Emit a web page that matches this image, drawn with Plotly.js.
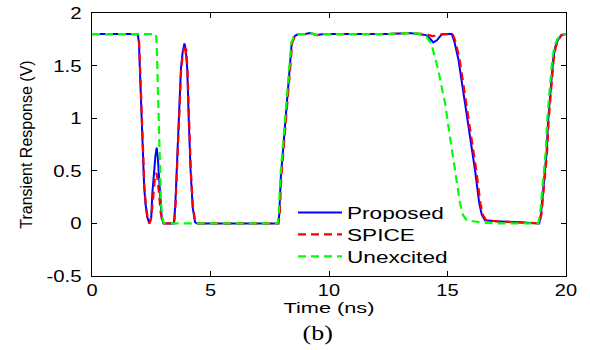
<!DOCTYPE html>
<html><head><meta charset="utf-8">
<script src="https://cdn.plot.ly/plotly-3.0.1.min.js"></script>
<style>html,body{margin:0;padding:0;background:#fff;} #chart{width:590px;height:350px;}</style>
</head><body><div id="chart"></div>
<script>
// ---- data (time in ns, voltage in V) ----
const seriesNames = ['Proposed', 'SPICE', 'Unexcited'];

const proposedT = [0, 1.0, 1.93, 1.98, 2.05, 2.14, 2.2, 2.26, 2.33, 2.42, 2.5, 2.55, 2.62, 2.68, 2.73, 2.78, 2.84, 2.88, 2.94, 3.02, 3.2, 3.46, 3.52, 3.57, 3.67, 3.75, 3.82, 3.9, 3.96, 4.02, 4.08, 4.16, 4.25, 4.35, 4.45, 6.0, 7.85, 7.9, 7.97, 8.08, 8.19, 8.28, 8.35, 8.43, 8.55, 8.7, 9.0, 9.2, 9.48, 9.8, 10.5, 11.5, 12.5, 13.4, 13.9, 14.1, 14.25, 14.4, 14.55, 14.75, 15.1, 15.18, 15.3, 15.46, 15.6, 15.74, 15.95, 16.16, 16.34, 16.45, 16.58, 17.07, 18.0, 18.87, 18.95, 19.04, 19.18, 19.25, 19.35, 19.46, 19.55, 19.67, 19.8, 19.96, 20];
const proposedV = [1.8, 1.8, 1.8, 1.72, 1.3, 0.67, 0.35, 0.18, 0.06, 0.0, 0.06, 0.3, 0.5, 0.65, 0.72, 0.62, 0.4, 0.2, 0.05, 0.0, 0.0, 0.0, 0.2, 0.5, 1.0, 1.46, 1.62, 1.71, 1.65, 1.46, 1.0, 0.5, 0.15, 0.01, 0.0, 0.0, 0.0, 0.08, 0.45, 0.75, 1.05, 1.35, 1.55, 1.72, 1.78, 1.8, 1.8, 1.81, 1.79, 1.8, 1.8, 1.8, 1.8, 1.81, 1.8, 1.79, 1.76, 1.72, 1.74, 1.795, 1.8, 1.8, 1.72, 1.56, 1.35, 1.14, 0.83, 0.51, 0.19, 0.08, 0.03, 0.02, 0.01, 0.0, 0.1, 0.35, 0.67, 0.99, 1.3, 1.56, 1.68, 1.75, 1.79, 1.8, 1.8];

const spiceT = [0, 1.0, 1.93, 1.99, 2.06, 2.15, 2.21, 2.27, 2.34, 2.43, 2.5, 2.57, 2.65, 2.72, 2.78, 2.84, 2.9, 2.97, 3.05, 3.2, 3.47, 3.53, 3.58, 3.68, 3.76, 3.84, 3.9, 3.94, 3.98, 4.03, 4.09, 4.17, 4.26, 4.36, 4.46, 6.0, 7.87, 7.92, 7.99, 8.1, 8.21, 8.3, 8.37, 8.45, 8.57, 8.72, 9.0, 9.2, 9.48, 9.8, 10.5, 11.5, 12.5, 13.4, 13.9, 14.15, 14.35, 14.55, 14.8, 15.1, 15.22, 15.35, 15.51, 15.65, 15.79, 16.0, 16.21, 16.39, 16.5, 16.63, 17.1, 18.0, 18.89, 18.97, 19.06, 19.2, 19.27, 19.37, 19.48, 19.57, 19.69, 19.82, 19.97, 20];
const spiceV = [1.8, 1.8, 1.8, 1.72, 1.3, 0.67, 0.35, 0.18, 0.06, 0.0, 0.05, 0.22, 0.42, 0.48, 0.4, 0.25, 0.1, 0.02, 0.0, 0.0, 0.0, 0.2, 0.5, 1.0, 1.45, 1.63, 1.67, 1.6, 1.66, 1.45, 1.0, 0.5, 0.15, 0.01, 0.0, 0.0, 0.0, 0.08, 0.45, 0.75, 1.05, 1.35, 1.55, 1.72, 1.78, 1.8, 1.8, 1.81, 1.79, 1.8, 1.8, 1.8, 1.8, 1.81, 1.8, 1.795, 1.78, 1.785, 1.8, 1.8, 1.8, 1.72, 1.56, 1.35, 1.14, 0.83, 0.51, 0.19, 0.08, 0.03, 0.02, 0.01, 0.0, 0.1, 0.35, 0.67, 0.99, 1.3, 1.56, 1.68, 1.75, 1.79, 1.8, 1.8];

const unexcitedT = [0, 2.7, 2.73, 2.78, 2.84, 2.91, 2.96, 3.02, 3.1, 6.0, 7.83, 7.88, 7.95, 8.06, 8.17, 8.26, 8.33, 8.41, 8.53, 8.68, 9.0, 9.2, 9.48, 9.8, 10.5, 11.5, 12.5, 13.4, 13.95, 14.1, 14.26, 14.33, 14.47, 14.61, 14.75, 14.9, 15.1, 15.32, 15.53, 15.65, 15.81, 16.37, 17.0, 18.0, 18.83, 18.91, 19.0, 19.14, 19.21, 19.31, 19.42, 19.51, 19.63, 19.76, 19.93, 20];
const unexcitedV = [1.8, 1.8, 1.7, 1.3, 0.67, 0.2, 0.07, 0.01, 0.0, 0.0, 0.0, 0.08, 0.45, 0.75, 1.05, 1.35, 1.55, 1.72, 1.78, 1.8, 1.8, 1.81, 1.79, 1.8, 1.8, 1.8, 1.8, 1.81, 1.8, 1.78, 1.72, 1.70, 1.58, 1.46, 1.3, 1.14, 0.83, 0.51, 0.19, 0.08, 0.03, 0.01, 0.0, 0.0, 0.0, 0.1, 0.35, 0.67, 0.99, 1.3, 1.56, 1.68, 1.75, 1.79, 1.8, 1.8];

const xTickVals = [0, 5, 10, 15, 20];
const xTickText = ['0', '5', '10', '15', '20'];
const yTickVals = [-0.5, 0, 0.5, 1, 1.5, 2];
const yTickText = ['-0.5', '0', '0.5', '1', '1.5', '2'];

const xTitle = 'Time (ns)';
const yTitle = 'Transient Response (V)';
const caption = '(b)';

// ---- figure ----
const SANS = 'Liberation Sans, Arial, sans-serif';
const traces = [
  {x: proposedT, y: proposedV, name: seriesNames[0], mode: 'lines',
   line: {color: '#0000ff', width: 2}},
  {x: spiceT, y: spiceV, name: seriesNames[1], mode: 'lines',
   line: {color: '#ff0000', width: 2.2, dash: '8px,5px'}},
  {x: unexcitedT, y: unexcitedV, name: seriesNames[2], mode: 'lines',
   line: {color: '#00ff00', width: 2.2, dash: '8px,5px'}}
];

const axisCommon = {
  ticks: 'inside', ticklen: 5, tickwidth: 1, tickcolor: '#000',
  showline: true, linecolor: '#000', linewidth: 1, mirror: 'ticks',
  showgrid: false, zeroline: false
};

const layout = {
  width: 590, height: 350,
  margin: {l: 92, r: 24, t: 13, b: 74, pad: 0},
  paper_bgcolor: '#fff', plot_bgcolor: '#fff',
  font: {family: SANS, color: '#000'},
  showlegend: true,
  legend: {x: 0.4536, y: 0.297, xanchor: 'left', yanchor: 'top',
           bgcolor: 'rgba(0,0,0,0)', borderwidth: 0, tracegroupgap: 0,
           font: {family: SANS, size: 17, color: '#000'}},
  xaxis: Object.assign({}, axisCommon, {
    range: [0, 20], tickmode: 'array', tickvals: xTickVals, ticktext: xTickText,
    tickfont: {family: SANS, size: 16, color: '#000'}, ticklabelstandoff: 0,
    title: {text: xTitle, font: {family: SANS, size: 15, color: '#000'}, standoff: 0}
  }),
  yaxis: Object.assign({}, axisCommon, {
    range: [-0.5, 2], tickmode: 'array', tickvals: yTickVals, ticktext: yTickText,
    tickfont: {family: SANS, size: 17, color: '#000'}, ticklabelstandoff: 6,
    title: {text: yTitle, font: {family: SANS, size: 16, color: '#000'}, standoff: 15}
  }),
  annotations: [{text: caption, xref: 'paper', yref: 'paper', x: 0.475, y: -0.168,
                 xanchor: 'center', yanchor: 'top', showarrow: false,
                 font: {family: 'Liberation Serif, Times New Roman, serif', size: 20, color: '#000'}}]
};

function stretchText(sel, sx) {
  document.querySelectorAll(sel).forEach(el => {
    const x = parseFloat(el.getAttribute('x')) || 0;
    const prev = el.getAttribute('transform') || '';
    el.setAttribute('transform', prev + ' translate(' + x + ',0) scale(' + sx + ',1) translate(' + (-x) + ',0)');
  });
}

function tidyLegend() {
  document.querySelectorAll('.legend [clip-path]').forEach(e => e.removeAttribute('clip-path'));
  document.querySelectorAll('.legendlines path').forEach(p => p.setAttribute('d', 'M-9,0h44'));
  const items = Array.from(document.querySelectorAll('.legend .traces'));
  if (!items.length) return;
  const parse = el => {
    const m = /translate\(\s*([-\d.e]+)[ ,]+([-\d.e]+)\s*\)/.exec(el.getAttribute('transform') || '');
    return m ? [parseFloat(m[1]), parseFloat(m[2])] : [0, 0];
  };
  const first = parse(items[0]);
  items.forEach((el, i) => {
    const p = parse(el);
    el.setAttribute('transform', 'translate(' + p[0] + ',' + (first[1] - 3 + 22 * i) + ')');
  });
}

Plotly.newPlot('chart', traces, layout, {displayModeBar: false, staticPlot: true}).then(() => {
  // the reference figure is horizontally stretched: widen horizontal text accordingly
  stretchText('.xtick text', 1.25);
  stretchText('.ytick text', 1.2);
  stretchText('.legendtext', 1.33);
  stretchText('.g-xtitle text', 1.45);
  stretchText('.annotation-text', 1.3);
  tidyLegend();
});
</script>
</body></html>
